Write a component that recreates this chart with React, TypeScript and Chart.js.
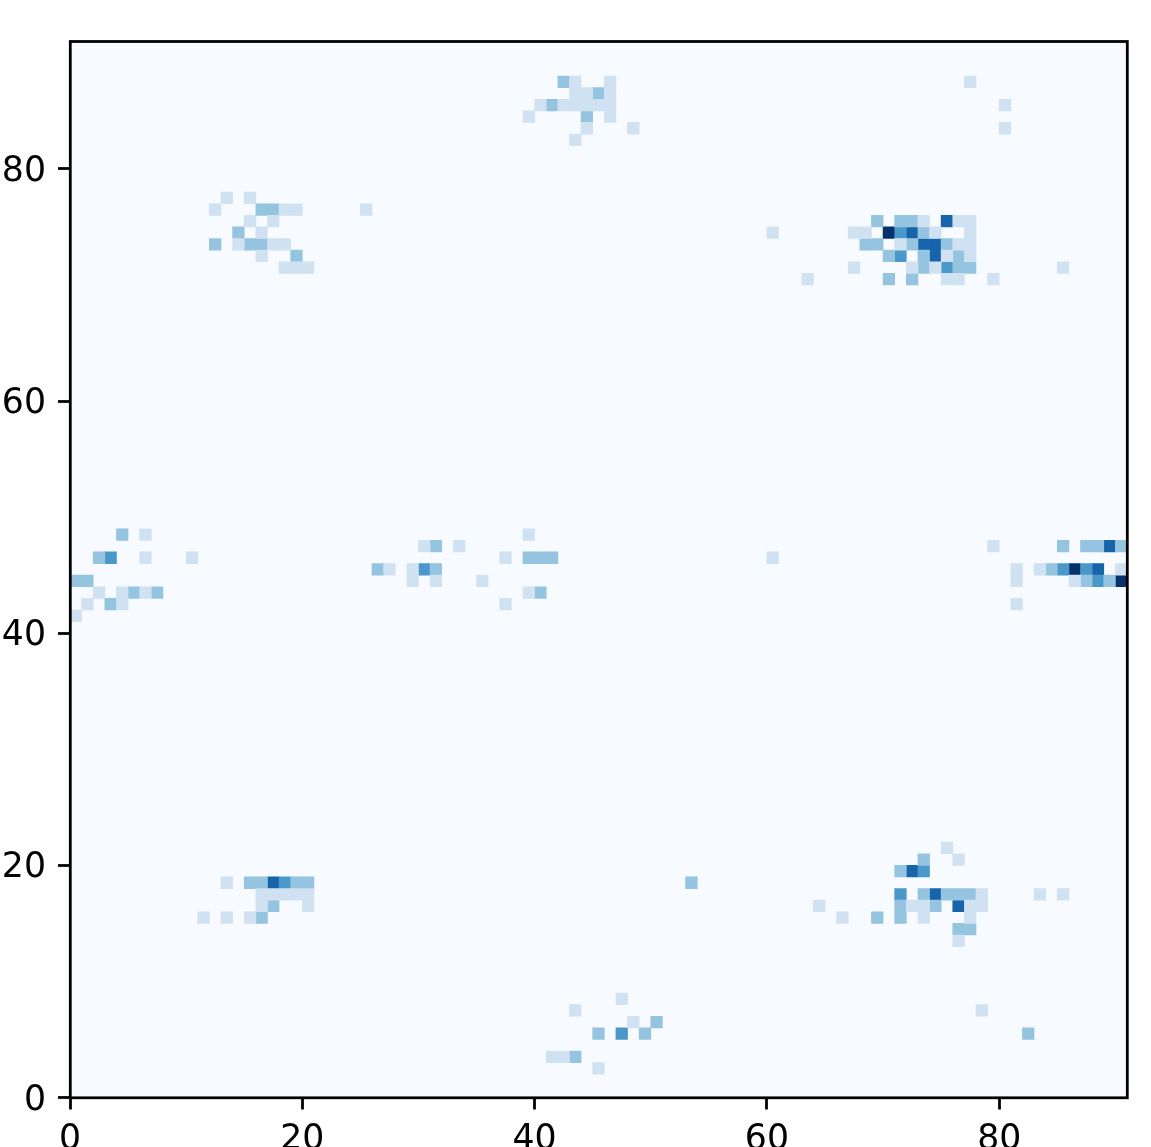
import React, { useEffect, useRef } from "react";
import { Chart, registerables } from "chart.js";

Chart.register(...registerables);

const GRID_SIZE = 91;
const TICK_STEP = 20;

const level1Cells = [
  [43,87],[46,87],[77,87],[43,86],[44,86],[46,86],[40,85],[42,85],[43,85],[44,85],[45,85],[46,85],[80,85],[39,84],[46,84],[44,83],[48,83],[80,83],[43,82],
  [73,75],[76,75],[77,75],[60,74],[67,74],[68,74],[74,74],[77,74],[71,73],[76,73],[77,73],[75,72],[77,72],[67,71],[72,71],[74,71],[85,71],[63,70],[75,70],[76,70],[79,70],
  [13,77],[15,77],[12,76],[18,76],[19,76],[25,76],[15,75],[17,75],[16,74],[14,73],[17,73],[18,73],[16,72],[18,71],[19,71],[20,71],
  [6,48],[6,46],[10,46],[2,43],[4,43],[6,43],[1,42],[4,42],[0,41],
  [39,48],[30,47],[33,47],[37,46],[27,45],[29,45],[29,44],[31,44],[35,44],[39,43],[37,42],
  [79,47],[60,46],[81,45],[83,45],[90,45],[81,44],[86,44],[81,42],
  [13,18],[16,17],[17,17],[18,17],[19,17],[20,17],[16,16],[20,16],[11,15],[13,15],[15,15],
  [75,21],[76,20],[78,17],[83,17],[85,17],[72,16],[73,16],[77,16],[78,16],[64,16],[66,15],[73,15],[77,15],[76,13],
  [47,8],[43,7],[78,7],[48,6],[41,3],[42,3],[45,2],
];

const level2Cells = [
  [42,87],[45,86],[41,85],[44,84],
  [69,75],[71,75],[72,75],[73,74],[68,73],[69,73],[72,73],[75,73],[70,72],[73,72],[76,72],[73,71],[76,71],[77,71],[70,70],[72,70],
  [16,76],[17,76],[14,74],[12,73],[15,73],[16,73],[19,72],
  [4,48],[2,46],[0,44],[1,44],[5,43],[7,43],[3,42],
  [31,47],[39,46],[40,46],[41,46],[26,45],[31,45],[40,43],
  [85,47],[87,47],[88,47],[90,47],[84,45],[87,44],[89,44],
  [15,18],[16,18],[19,18],[20,18],[17,16],[16,15],[53,18],
  [73,20],[71,19],[73,17],[75,17],[76,17],[77,17],[71,16],[74,16],[69,15],[71,15],[76,14],[77,14],
  [50,6],[45,5],[49,5],[82,5],[43,3],
];

const level3Cells = [
  [71,74],[71,72],[75,71],[3,46],[30,45],[85,45],[87,45],[88,44],[18,18],[73,19],[71,17],[47,5],
];

const level4Cells = [
  [75,75],[72,74],[73,73],[74,73],[74,72],[89,47],[88,45],[17,18],[72,19],[74,17],[76,16],
];

const level5Cells = [
  [70,74],[86,45],[90,44],
];

const levelSeries = [level1Cells, level2Cells, level3Cells, level4Cells, level5Cells];
const levelColors = ["#d0e1f2", "#94c4df", "#4a98c9", "#1764ab", "#08306b"];
const backgroundColor = "#f7fbff";

const frame = {
  id: "frame",
  beforeDatasetsDraw(chart: any) {
    const { ctx, chartArea: a } = chart;
    ctx.save();
    ctx.fillStyle = backgroundColor;
    ctx.fillRect(a.left, a.top, a.right - a.left, a.bottom - a.top);
    ctx.restore();
  },
  afterDraw(chart: any) {
    const { ctx, chartArea: a } = chart;
    ctx.save();
    ctx.strokeStyle = "#000";
    ctx.lineWidth = 2.78;
    ctx.strokeRect(a.left + 0.3, a.top + 0.3, a.right - a.left, a.bottom - a.top);
    ctx.restore();
  },
};

export default function App() {
  const ref = useRef<HTMLCanvasElement | null>(null);
  useEffect(() => {
    const axis = (fit: (s: any) => void, labelOffset: number, padding: number) => ({
      type: "linear" as const,
      min: 0,
      max: GRID_SIZE,
      offset: false,
      border: { display: false },
      grid: {
        offset: false,
        drawOnChartArea: false,
        drawTicks: true,
        tickLength: 12,
        tickWidth: 2.78,
        tickColor: "#000",
      },
      ticks: {
        stepSize: TICK_STEP,
        includeBounds: false,
        autoSkip: false,
        maxRotation: 0,
        padding,
        labelOffset,
        color: "#000",
        font: { family: "'DejaVu Sans'", size: 34.7 },
      },
      afterFit: fit,
    });
    const chart = new Chart(ref.current!, {
      type: "bar",
      data: {
        datasets: levelSeries.map((cells, i) => ({
          data: cells.map(([col, row]) => ({ x: col + 0.5, y: [row, row + 1] })),
          backgroundColor: levelColors[i],
          borderWidth: 0,
          grouped: false,
          barPercentage: 1,
          categoryPercentage: 1,
        })),
      } as any,
      options: {
        responsive: false,
        animation: false,
        layout: { padding: { top: 41.2, right: 24, left: 0, bottom: 0 } },
        plugins: { legend: { display: false }, tooltip: { enabled: false } },
        scales: {
          x: axis((s) => { s.height = 49.5; }, 0, 10),
          y: axis((s) => { s.width = 70; }, 3, 12),
        },
      } as any,
      plugins: [frame],
    });
    return () => chart.destroy();
  }, []);
  return (
    <canvas
      ref={ref}
      width={1151}
      height={1147}
      style={{ position: "absolute", left: 0, top: 0, display: "block" }}
    />
  );
}
